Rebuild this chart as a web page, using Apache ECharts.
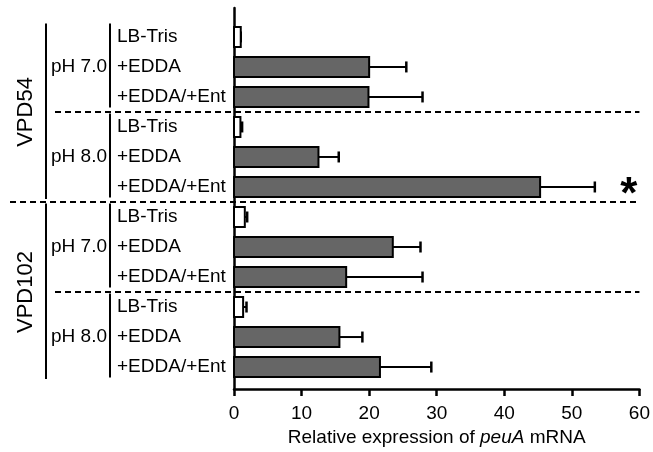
<!DOCTYPE html>
<html lang="en">
<head>
<meta charset="UTF-8">
<title>peuA expression</title>
<script src="https://cdn.jsdelivr.net/npm/echarts@6/dist/echarts.min.js"></script>
<style>
html, body { margin: 0; padding: 0; background: #fff; }
#main { width: 653px; height: 452px; }
</style>
</head>
<body>
<div id="main"></div>
<script type="text/javascript">
// values, top row first
var conditions = ['LB-Tris', '+EDDA', '+EDDA/+Ent', 'LB-Tris', '+EDDA', '+EDDA/+Ent',
                  'LB-Tris', '+EDDA', '+EDDA/+Ent', 'LB-Tris', '+EDDA', '+EDDA/+Ent'];
var expression = [1.0, 20.0, 19.9, 0.95, 12.5, 45.3, 1.6, 23.5, 16.6, 1.35, 15.6, 21.6];
var errors = [0, 5.5, 8.0, 0.25, 3.0, 8.1, 0.35, 4.1, 11.3, 0.5, 3.4, 7.6];
var marks = ['', '', '', '', '', '*', '', '', '', '', '', ''];
var phGroups = ['pH 7.0', 'pH 8.0', 'pH 7.0', 'pH 8.0'];
var strains = ['VPD54', 'VPD102'];
var xTicks = [0, 10, 20, 30, 40, 50, 60];

var FONT = "'Liberation Sans', Arial, sans-serif";
var FS = 19;
var ROWS_PER_PH = 3, ROWS_PER_STRAIN = 6;

var chart = echarts.init(document.getElementById('main'));

function txt(x, y, text, align, size, extra) {
    var el = {
        type: 'text', x: x, y: y,
        style: { text: text, fill: '#000', font: size + 'px ' + FONT, align: align, verticalAlign: 'middle' }
    };
    for (var k in extra) el[k] = extra[k];
    return el;
}

function renderBar(params, api) {
    var i = api.value(1), v = api.value(0), e = api.value(2);
    var base = api.coord([0, i]);
    var end = api.coord([v, i]);
    var tip = api.coord([v + e, i]);
    var h = api.size([0, 1])[1] * 0.665;
    var kids = [
        { type: 'line', shape: { x1: end[0], y1: end[1], x2: tip[0], y2: tip[1] },
          style: { stroke: '#000', lineWidth: 2 } },
        { type: 'line', shape: { x1: tip[0], y1: tip[1] - 5.5, x2: tip[0], y2: tip[1] + 5.5 },
          style: { stroke: '#000', lineWidth: 2.5 } },
        { type: 'rect', shape: { x: base[0], y: base[1] - h / 2, width: end[0] - base[0], height: h },
          style: { fill: conditions[i] === 'LB-Tris' ? '#fff' : '#666', stroke: '#000', lineWidth: 2 } },
        txt(base[0] - 117, base[1], conditions[i], 'left', FS)
    ];
    if (marks[i]) {
        kids.push({ type: 'text', x: tip[0] + 34, y: base[1] + 9,
            style: { text: marks[i], fill: '#000', font: 'bold 44px ' + FONT, align: 'center', verticalAlign: 'middle' } });
    }
    return { type: 'group', children: kids };
}

function renderPh(params, api) {
    var g = api.value(0);
    var first = g * ROWS_PER_PH, last = first + ROWS_PER_PH - 1;
    var top = api.coord([0, first - 0.45]);
    var bot = api.coord([0, last + 0.35]);
    var mid = api.coord([0, first + 1]);
    var kids = [
        { type: 'line', shape: { x1: top[0] - 124, y1: top[1], x2: bot[0] - 124, y2: bot[1] },
          style: { stroke: '#000', lineWidth: 2 } },
        txt(mid[0] - 127, mid[1], phGroups[g], 'right', FS)
    ];
    if (g < phGroups.length - 1) {
        var sepL = api.coord([0, last + 0.5]);
        var sepR = api.coord([60, last + 0.5]);
        var strainEdge = (last + 1) % ROWS_PER_STRAIN === 0;
        kids.push({ type: 'line',
            shape: { x1: sepL[0] - (strainEdge ? 224 : 179), y1: sepL[1], x2: sepR[0], y2: sepR[1] },
            style: { stroke: '#000', lineWidth: 2, lineDash: [6, 4] } });
    }
    return { type: 'group', children: kids };
}

function renderStrain(params, api) {
    var s = api.value(0);
    var first = s * ROWS_PER_STRAIN, last = first + ROWS_PER_STRAIN - 1;
    var top = api.coord([0, first - 0.45]);
    var bot = api.coord([0, last + 0.4]);
    var mid = api.coord([0, (first + last) / 2]);
    return { type: 'group', children: [
        { type: 'line', shape: { x1: top[0] - 188, y1: top[1], x2: bot[0] - 188, y2: bot[1] },
          style: { stroke: '#000', lineWidth: 2 } },
        txt(mid[0] - 208, mid[1], strains[s], 'center', 22, { rotation: Math.PI / 2 })
    ] };
}

var option = {
    animation: false,
    grid: { left: 234, right: 6, top: 8, bottom: 62 },
    xAxis: {
        type: 'value', position: 'bottom', min: xTicks[0], max: xTicks[xTicks.length - 1], interval: 10,
        axisLine: { onZero: false, lineStyle: { color: '#000', width: 2.5 } },
        axisTick: { show: true, length: 7, lineStyle: { color: '#000', width: 2.5 } },
        axisLabel: { color: '#000', fontFamily: FONT, fontSize: FS, margin: 15 },
        splitLine: { show: false },
        name: 'Relative expression of {i|peuA} mRNA',
        nameLocation: 'middle', nameGap: 36,
        nameTextStyle: { color: '#000', fontFamily: FONT, fontSize: FS,
            rich: { i: { fontStyle: 'italic', fontFamily: FONT, fontSize: FS, color: '#000' } } }
    },
    yAxis: {
        type: 'value', inverse: true, min: -0.964, max: 11.735,
        axisLine: { show: true, onZero: false, lineStyle: { color: '#000', width: 2.5 } },
        axisTick: { show: false }, axisLabel: { show: false }, splitLine: { show: false }
    },
    series: [
        { type: 'custom', clip: false, renderItem: renderPh, encode: { x: 1, y: 2 },
          data: phGroups.map(function (p, g) { return [g, 0, g * ROWS_PER_PH]; }) },
        { type: 'custom', clip: false, renderItem: renderStrain, encode: { x: 1, y: 2 },
          data: strains.map(function (s, k) { return [k, 0, k * ROWS_PER_STRAIN]; }) },
        { type: 'custom', clip: false, renderItem: renderBar, encode: { x: 0, y: 1 },
          data: expression.map(function (v, i) { return [v, i, errors[i]]; }) }
    ]
};
chart.setOption(option);
</script>
</body>
</html>
